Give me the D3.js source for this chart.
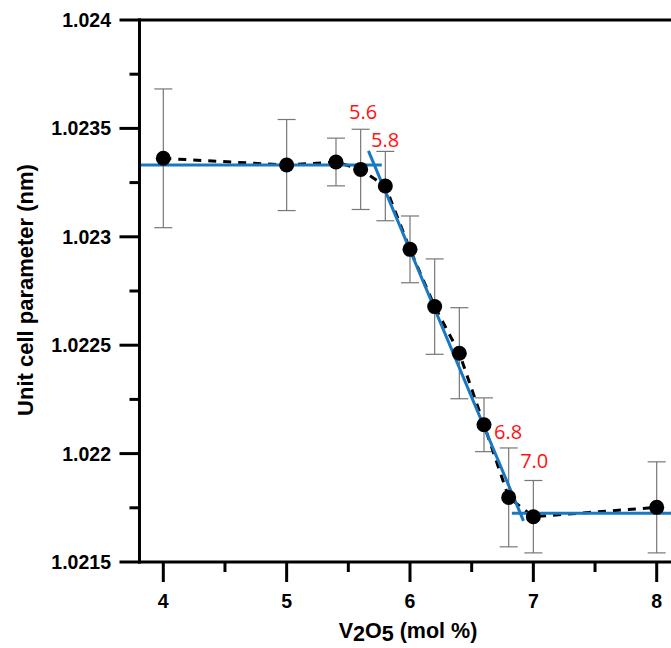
<!DOCTYPE html>
<html><head><meta charset="utf-8">
<script src="https://cdn.jsdelivr.net/npm/d3@7"></script>
<style>body{margin:0;background:#fff}svg{display:block}</style>
</head><body>
<script>
// ---- data ----
const xValues = [4.0, 5.0, 5.4, 5.6, 5.8, 6.0, 6.2, 6.4, 6.6, 6.8, 7.0, 8.0];
const yValues = [1.023362, 1.023331, 1.023345, 1.023311, 1.023234, 1.022942, 1.022678, 1.022463, 1.022133, 1.021798, 1.021709, 1.021752];
const yErrors = [0.00032, 0.00021, 0.00011, 0.000185, 0.00016, 0.000154, 0.00022, 0.00021, 0.000124, 0.000228, 0.000167, 0.00021];
const fitLines = [
  [[3.807, 1.023331], [5.771, 1.023331]],
  [[5.663, 1.023396], [6.920, 1.021690]],
  [[6.826, 1.021725], [8.25, 1.021725]]
];
const annoText = ["5.6", "5.8", "6.8", "7.0"];
const annoX = [5.62, 5.798, 6.796, 7.007];
const annoY = [1.023543, 1.023414, 1.022067, 1.021934];
const xTicks = [4, 5, 6, 7, 8];
const yTicks = [1.0215, 1.022, 1.0225, 1.023, 1.0235, 1.024];
const yTickLabels = ["1.0215", "1.022", "1.0225", "1.023", "1.0235", "1.024"];

const W = 671, H = 648;
const svg = d3.select("body").append("svg").attr("width", W).attr("height", H);

const x = d3.scaleLinear().domain([4, 8]).range([163.3, 656.7]);
const y = d3.scaleLinear().domain([1.0215, 1.024]).range([562, 20]);
const xLeft = x(3.807);
const xRight = 700;

const tickFont = "'Liberation Sans', Arial, sans-serif";

// frame top line
svg.append("line").attr("x1", xLeft - 1.5).attr("x2", xRight).attr("y1", y(1.024)).attr("y2", y(1.024))
  .attr("stroke", "#000").attr("stroke-width", 3);

// error bars
const eb = svg.append("g").attr("stroke", "#777").attr("stroke-width", 1.2);
xValues.forEach((xv, i) => {
  const cx = x(xv), top = y(yValues[i] + yErrors[i]), bot = y(yValues[i] - yErrors[i]);
  eb.append("line").attr("x1", cx).attr("x2", cx).attr("y1", top).attr("y2", bot);
  eb.append("line").attr("x1", cx - 9).attr("x2", cx + 9).attr("y1", top).attr("y2", top);
  eb.append("line").attr("x1", cx - 9).attr("x2", cx + 9).attr("y1", bot).attr("y2", bot);
});

// dashed connecting line
const pts = xValues.map((xv, i) => [xv, yValues[i]]);
svg.append("path").datum(pts)
  .attr("d", d3.line().x(d => x(d[0])).y(d => y(d[1])))
  .attr("fill", "none").attr("stroke", "#000").attr("stroke-width", 3)
  .attr("stroke-dasharray", "8,7");

// fit lines
fitLines.forEach(seg => {
  svg.append("path").datum(seg)
    .attr("d", d3.line().x(d => x(d[0])).y(d => y(d[1])))
    .attr("fill", "none").attr("stroke", "#1a78c2").attr("stroke-width", 3);
});

// points
svg.append("g").selectAll("circle").data(pts).join("circle")
  .attr("cx", d => x(d[0])).attr("cy", d => y(d[1])).attr("r", 7.5).attr("fill", "#000");

// annotations
svg.append("g").selectAll("text").data(annoText).join("text")
  .attr("x", (d, i) => x(annoX[i])).attr("y", (d, i) => y(annoY[i]))
  .attr("text-anchor", "middle").attr("fill", "#ff1111")
  .style("font-family", "'Open Sans', sans-serif").style("font-size", "20px")
  .text(d => d);

// x axis
const xAxis = svg.append("g").attr("transform", `translate(0,${y(1.0215)})`);
xAxis.append("line").attr("x1", xLeft - 1.5).attr("x2", xRight).attr("stroke", "#000").attr("stroke-width", 3);
const xMinor = d3.range(4.5, 8.5, 1);
xAxis.selectAll(".xmaj").data(xTicks).join("line").attr("class", "xmaj")
  .attr("x1", d => x(d)).attr("x2", d => x(d)).attr("y1", 0).attr("y2", 20).attr("stroke", "#000").attr("stroke-width", 3);
xAxis.selectAll(".xmin").data(xMinor).join("line").attr("class", "xmin")
  .attr("x1", d => x(d)).attr("x2", d => x(d)).attr("y1", 0).attr("y2", 10).attr("stroke", "#000").attr("stroke-width", 3);
xAxis.selectAll("text").data(xTicks).join("text")
  .attr("x", d => x(d)).attr("y", 46).attr("text-anchor", "middle")
  .style("font-family", tickFont).style("font-weight", "bold").style("font-size", "19.5px")
  .text(d => d);

// y axis
const yAxis = svg.append("g").attr("transform", `translate(${xLeft},0)`);
yAxis.append("line").attr("y1", y(1.024) - 1.5).attr("y2", y(1.0215) + 1.5).attr("stroke", "#000").attr("stroke-width", 3);
const yMinor = d3.range(1.02175, 1.024, 0.0005);
yAxis.selectAll(".ymaj").data(yTicks).join("line").attr("class", "ymaj")
  .attr("y1", d => y(d)).attr("y2", d => y(d)).attr("x1", 0).attr("x2", -20).attr("stroke", "#000").attr("stroke-width", 3);
yAxis.selectAll(".ymin").data(yMinor).join("line").attr("class", "ymin")
  .attr("y1", d => y(d)).attr("y2", d => y(d)).attr("x1", 0).attr("x2", -10).attr("stroke", "#000").attr("stroke-width", 3);
yAxis.selectAll("text").data(yTicks).join("text")
  .attr("x", -28.5).attr("y", d => y(d)).attr("dy", "0.36em").attr("text-anchor", "end")
  .style("font-family", tickFont).style("font-weight", "bold").style("font-size", "19.5px")
  .text((d, i) => yTickLabels[i]);

// axis titles
const xt = svg.append("text").attr("x", 408).attr("y", 638).attr("text-anchor", "middle")
  .style("font-family", tickFont).style("font-weight", "bold").style("font-size", "21.5px");
xt.append("tspan").text("V");
xt.append("tspan").attr("dy", 2.5).text("2");
xt.append("tspan").attr("dy", -2.5).text("O");
xt.append("tspan").attr("dy", 2.5).text("5");
xt.append("tspan").attr("dy", -2.5).text(" (mol %)");

svg.append("text").attr("transform", "translate(33,290) rotate(-90)").attr("text-anchor", "middle")
  .style("font-family", tickFont).style("font-weight", "bold").style("font-size", "22px")
  .text("Unit cell parameter (nm)");
</script>
</body></html>
